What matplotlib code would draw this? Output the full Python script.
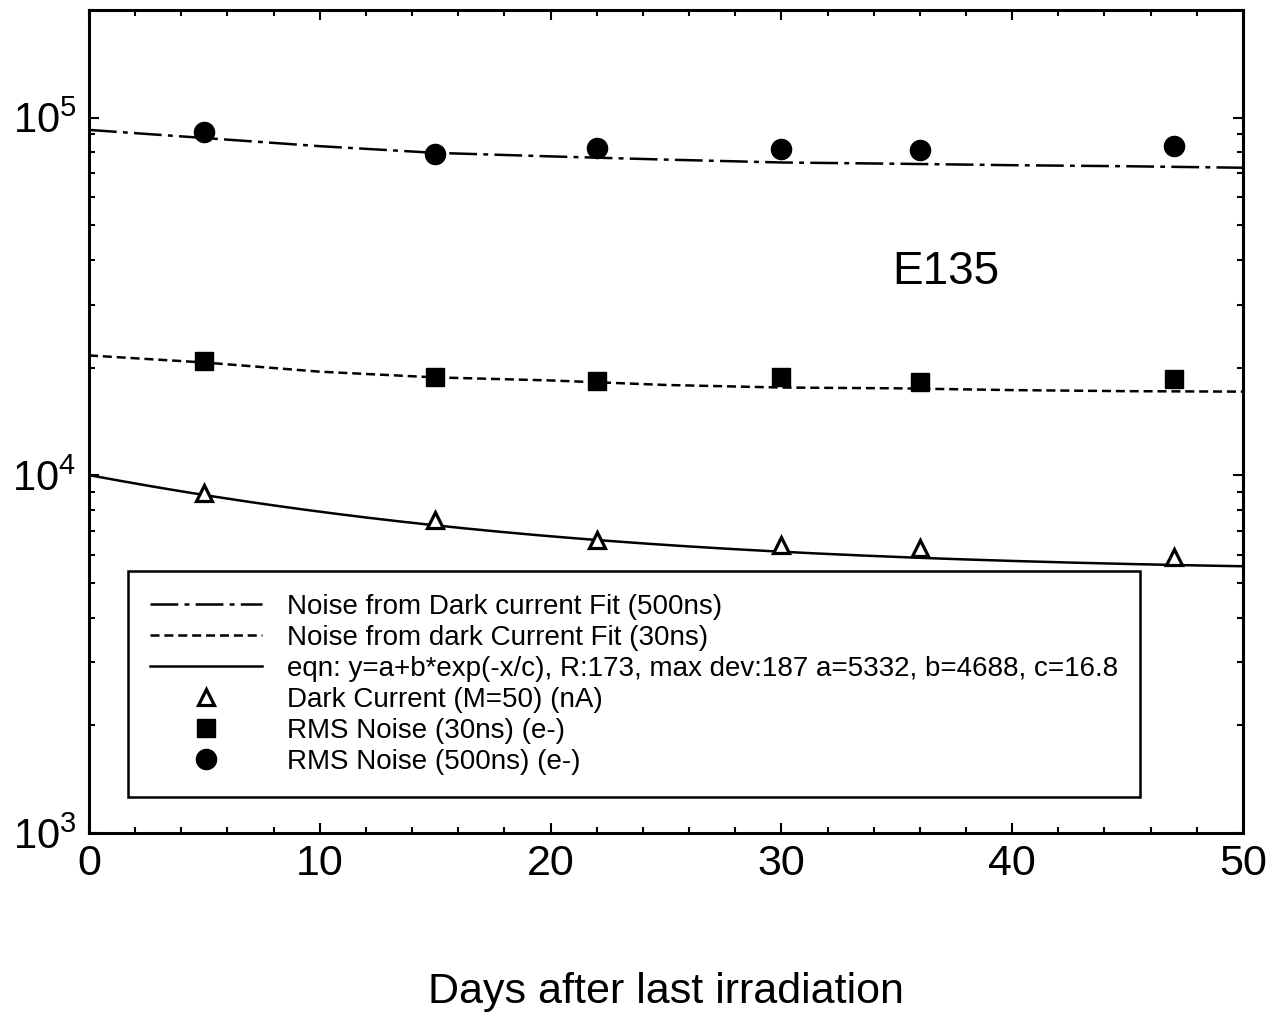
import numpy as np
import matplotlib
matplotlib.use("Agg")
import matplotlib.pyplot as plt
from matplotlib.ticker import LogLocator, FixedLocator, NullFormatter

plt.rcParams['font.family'] = ['Liberation Sans', 'DejaVu Sans']
plt.rcParams['mathtext.fontset'] = 'custom'
plt.rcParams['mathtext.rm'] = 'Liberation Sans'
plt.rcParams['mathtext.default'] = 'regular'
plt.rcParams['lines.scale_dashes'] = False

# measured points (days after last irradiation)
days = [5, 15, 22, 30, 36, 47]
dark_current = [8910, 7480, 6580, 6370, 6250, 5900]          # nA, M=50
rms_30ns = [20900, 18790, 18410, 18790, 18290, 18660]         # e-
rms_500ns = [91400, 79200, 82400, 81900, 81400, 83500]        # e-

# noise curves derived from the dark current fit
fit_days = [0, 5, 10, 15, 20, 25, 30, 35, 40, 45, 50]
noise_fit_500ns = [92500, 87800, 83300, 79800, 78000, 76400, 75000, 74400, 73700, 73200, 72500]
noise_fit_30ns = [21650, 20690, 19500, 18800, 18430, 17900, 17610, 17520, 17320, 17200, 17150]

# exponential fit of the dark current
fit_a, fit_b, fit_c = 5332, 4688, 16.8

fig = plt.figure(figsize=(12.78, 10.15), dpi=100)
ax = fig.add_axes([0.0696, 0.1793, 0.9030, 0.8107])

xx = np.linspace(0, 50, 300)
dark_fit = fit_a + fit_b * np.exp(-xx / fit_c)

l_dd, = ax.plot(fit_days, noise_fit_500ns, color='black', lw=1.8,
                dashes=(20, 4.5, 3.5, 4.5),
                label='Noise from Dark current Fit (500ns)')
l_d, = ax.plot(fit_days, noise_fit_30ns, color='black', lw=1.8,
               dashes=(6.5, 3.5),
               label='Noise from dark Current Fit (30ns)')
l_s, = ax.plot(xx, dark_fit, color='black', lw=1.8,
               label='eqn: y=a+b*exp(-x/c), R:173, max dev:187 a=5332, b=4688, c=16.8')
m_t, = ax.plot(days, dark_current, ls='none', marker='^', ms=12, mfc='white',
               mec='black', mew=2.3, label='Dark Current (M=50) (nA)')
m_s, = ax.plot(days, rms_30ns, ls='none', marker='s', ms=12.5, color='black',
               label='RMS Noise (30ns) (e-)')
m_c, = ax.plot(days, rms_500ns, ls='none', marker='o', ms=14.5, color='black',
               label='RMS Noise (500ns) (e-)')

ax.set_yscale('log')
ax.set_xlim(0, 50)
ax.set_ylim(1e3, 2e5)

ax.xaxis.set_major_locator(FixedLocator([0, 10, 20, 30, 40, 50]))
ax.xaxis.set_minor_locator(FixedLocator(np.arange(0, 51, 2)))
ax.yaxis.set_major_locator(FixedLocator([1e3, 1e4, 1e5]))
ax.yaxis.set_minor_locator(LogLocator(base=10, subs=np.arange(2, 10), numticks=20))
ax.yaxis.set_minor_formatter(NullFormatter())
ax.set_yticklabels(['$10^{3}$', '$10^{4}$', '$10^{5}$'])

ax.tick_params(which='both', direction='in', top=True, right=True, width=1.5)
ax.tick_params(which='major', length=7)
ax.tick_params(which='minor', length=4)
ax.tick_params(axis='x', which='major', labelsize=31, pad=8)
ax.tick_params(axis='y', which='major', labelsize=30, pad=9)
for sp in ax.spines.values():
    sp.set_linewidth(2.2)

ax.set_xlabel('Days after last irradiation', fontsize=31, labelpad=63)

ax.text(34.8, 3.7e4, 'E135', fontsize=33, ha='left', va='center')

leg = ax.legend(handles=[l_dd, l_d, l_s, m_t, m_s, m_c],
                loc='lower left', bbox_to_anchor=(0.034, 0.044),
                fontsize=20, frameon=True, fancybox=False, framealpha=1.0,
                handlelength=4.0, handletextpad=0.9, borderpad=0.8,
                labelspacing=0.18, borderaxespad=0, markerscale=1.0)
leg.get_frame().set_edgecolor('black')
leg.get_frame().set_linewidth(1.8)

fig.savefig('out.png', dpi=100)
